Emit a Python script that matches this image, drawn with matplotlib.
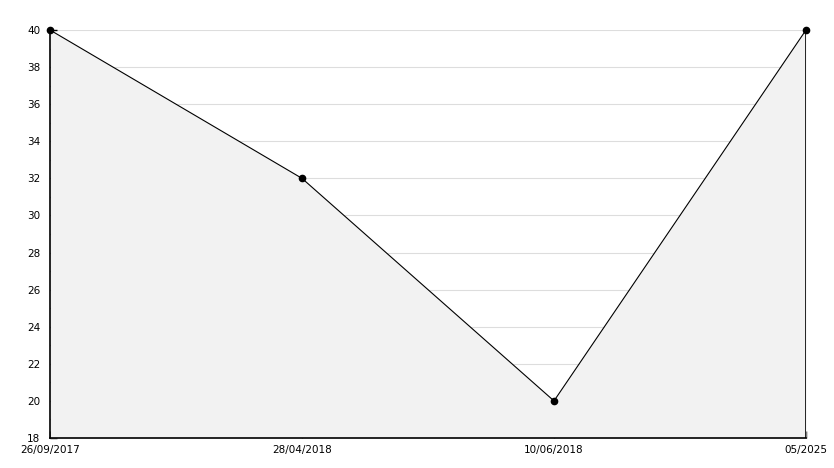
import matplotlib
matplotlib.use("Agg")
import matplotlib.pyplot as plt
from matplotlib.ticker import MultipleLocator

labels = ["26/09/2017", "28/04/2018", "10/06/2018", "05/2025"]
values = [40, 32, 20, 40]

fig = plt.figure(figsize=(8.34, 4.68), dpi=100)
ax = fig.add_axes([50/834, 1-438/468, 756/834, 408/468])
x = list(range(len(values)))

ax.set_ylim(18, 40)
ax.set_xlim(0, len(values)-1)
ax.yaxis.set_major_locator(MultipleLocator(2))
ax.yaxis.set_minor_locator(MultipleLocator(1))
ax.grid(axis="y", color="#dddddd", linewidth=0.8, zorder=0)
ax.set_axisbelow(True)

ax.fill_between(x, values, 18, color="#f2f2f2", zorder=1, linewidth=0)
ax.plot(x, values, color="black", linewidth=0.8, marker="o", markersize=4.5,
        zorder=4, clip_on=False)
ax.plot([x[-1], x[-1]], [18, values[-1]], color="black", linewidth=1.2, zorder=3)

ax.set_xticks(x)
ax.set_xticklabels(labels)
for s in ["top", "right"]:
    ax.spines[s].set_visible(False)
for s in ["left", "bottom"]:
    ax.spines[s].set_linewidth(1.2)
ax.tick_params(axis="both", which="both", direction="in", labelsize=7.5, width=1)
ax.tick_params(axis="y", which="major", length=5, pad=7)
ax.tick_params(axis="y", which="minor", length=5)
ax.tick_params(axis="x", which="major", length=5, pad=5)

fig.savefig("out.png", dpi=100)
